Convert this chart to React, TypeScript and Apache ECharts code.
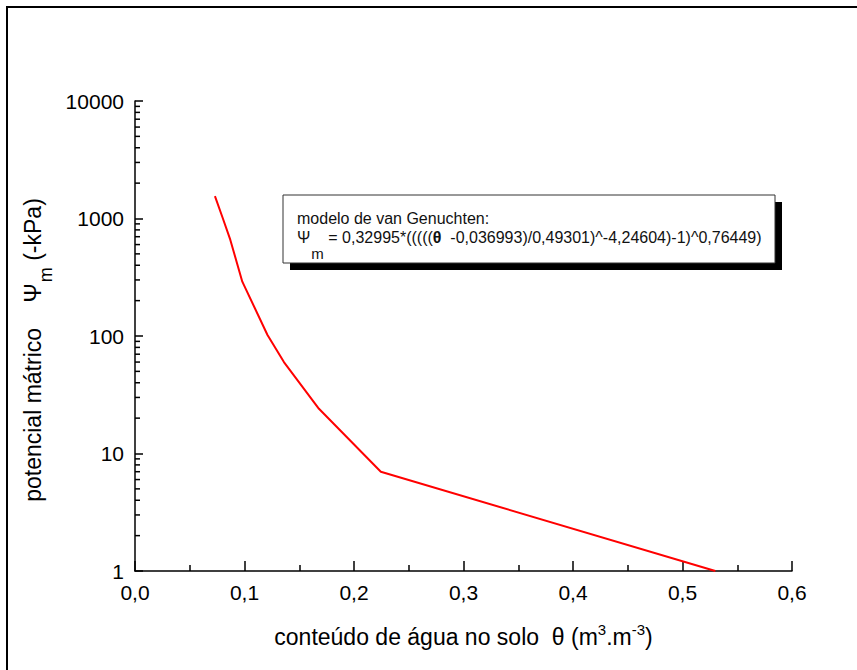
import React, { useEffect, useRef } from 'react';
import * as echarts from 'echarts';

// Data
const theta = [0.073, 0.0797, 0.087, 0.098, 0.121, 0.136, 0.168, 0.2245, 0.53];
const psi = [1550, 1035, 660, 290, 102, 60, 24, 7, 1];

// Log-axis minor ticks (2..9 in each decade)
const yDecades = [1, 10, 100, 1000];
const minorMultipliers = [2, 3, 4, 5, 6, 7, 8, 9];

const legendLine1 = 'modelo de van Genuchten:';
const legendFormulaA = ' = 0,32995*(((((';
const legendFormulaB = '  -0,036993)/0,49301)^-4,24604)-1)^0,76449)';

const FONT = "'Liberation Sans', Arial, sans-serif";

export default function App() {
  const ref = useRef<HTMLDivElement>(null);

  useEffect(() => {
    if (!ref.current) return;
    const chart = echarts.init(ref.current, undefined, { renderer: 'svg' });

    const minorVals: number[][] = [];
    yDecades.forEach((d) => minorMultipliers.forEach((m) => minorVals.push([0, d * m])));

    const axisLineStyle = { color: '#000', width: 1.5 };

    chart.setOption({
      animation: false,
      textStyle: { fontFamily: FONT },
      grid: { left: 135, right: 65, top: 101, bottom: 99, outerBoundsMode: 'none' },
      xAxis: {
        type: 'value',
        min: 0,
        max: 0.6,
        interval: 0.1,
        axisLine: { show: true, onZero: false, lineStyle: axisLineStyle },
        axisTick: { show: true, inside: true, length: 10, lineStyle: axisLineStyle },
        minorTick: { show: true, splitNumber: 2, length: 6, lineStyle: axisLineStyle },
        splitLine: { show: false },
        minorSplitLine: { show: false },
        axisLabel: {
          formatter: (v: number) => v.toFixed(1).replace('.', ','),
          fontSize: 21,
          color: '#000',
          margin: 11,
          fontFamily: FONT,
        },
        name: '{t|conteúdo de água no solo  θ (m}{s|3}{t|.m}{s|-3}{t|)}',
        nameLocation: 'middle',
        nameGap: 51,
        nameTextStyle: {
          rich: {
            t: { fontSize: 23, lineHeight: 30, color: '#000', fontFamily: FONT },
            s: { fontSize: 15, lineHeight: 15, verticalAlign: 'top', color: '#000', fontFamily: FONT },
          },
        },
      },
      yAxis: {
        type: 'log',
        logBase: 10,
        min: 1,
        max: 10000,
        axisLine: { show: true, onZero: false, lineStyle: axisLineStyle },
        axisTick: { show: true, inside: true, length: 8, lineStyle: axisLineStyle },
        minorTick: { show: false },
        splitLine: { show: false },
        axisLabel: {
          formatter: (v: number) => String(Math.round(v)),
          fontSize: 21,
          color: '#000',
          margin: 11,
          fontFamily: FONT,
        },
        name: '{t|potencial mátrico    Ψ}{sub|m}{t| (-kPa)}',
        nameLocation: 'middle',
        nameRotate: 90,
        nameGap: 74,
        nameTextStyle: {
          padding: [0, 28, 0, 0],
          rich: {
            t: { fontSize: 23, lineHeight: 30, color: '#000', fontFamily: FONT },
            sub: { fontSize: 18, lineHeight: 20, padding: [26, 0, 0, 1], color: '#000', fontFamily: FONT },
          },
        },
      },
      graphic: [
        {
          type: 'rect',
          silent: true,
          shape: { x: 7, y: 7, width: 900, height: 720 },
          style: { fill: 'none', stroke: '#000', lineWidth: 2 },
          z: 10,
        },
        {
          type: 'rect',
          silent: true,
          shape: { x: 290, y: 202, width: 492, height: 68 },
          style: { fill: '#000' },
          z: 10,
        },
        {
          type: 'rect',
          silent: true,
          shape: { x: 283, y: 195, width: 492, height: 68 },
          style: { fill: '#fff', stroke: '#333', lineWidth: 1 },
          z: 11,
        },
        {
          type: 'text',
          silent: true,
          x: 297,
          y: 218,
          z: 12,
          style: { text: legendLine1, fontSize: 16, fontFamily: FONT, fill: '#111', verticalAlign: 'middle' },
        },
        {
          type: 'text',
          silent: true,
          x: 297,
          y: 237.5,
          z: 12,
          style: {
            text: '{t|Ψ}{sub|m}{t|' + legendFormulaA + '}{b|θ}{t|' + legendFormulaB + '}',
            verticalAlign: 'middle',
            fill: '#111',
            rich: {
              t: { fontSize: 16, lineHeight: 20, verticalAlign: 'middle', fontFamily: FONT, fill: '#111', color: '#111' },
              b: { fontSize: 16, lineHeight: 20, verticalAlign: 'middle', fontWeight: 'bold', fontFamily: FONT, fill: '#111', color: '#111' },
              sub: { fontSize: 15, lineHeight: 16, verticalAlign: 'middle', padding: [31, 0, 0, 1], fontFamily: FONT, fill: '#111', color: '#111' },
            },
          },
        },
      ],
      series: [
        {
          type: 'line',
          data: theta.map((t, i) => [t, psi[i]]),
          symbol: 'none',
          showSymbol: false,
          lineStyle: { color: '#ff0000', width: 2 },
          z: 3,
        },
        {
          type: 'custom',
          silent: true,
          clip: false,
          data: minorVals,
          encode: { x: 0, y: 1 },
          renderItem: (_params: any, api: any) => {
            const p = api.coord([api.value(0), api.value(1)]);
            return {
              type: 'line',
              shape: { x1: p[0], y1: p[1], x2: p[0] + 5, y2: p[1] },
              style: { stroke: '#000', lineWidth: 1.5 },
            };
          },
          z: 4,
        },
      ],
    });

    return () => chart.dispose();
  }, []);

  return (
    <div
      ref={ref}
      style={{ position: 'absolute', left: 0, top: 0, width: 857, height: 670, background: '#fff' }}
    />
  );
}
